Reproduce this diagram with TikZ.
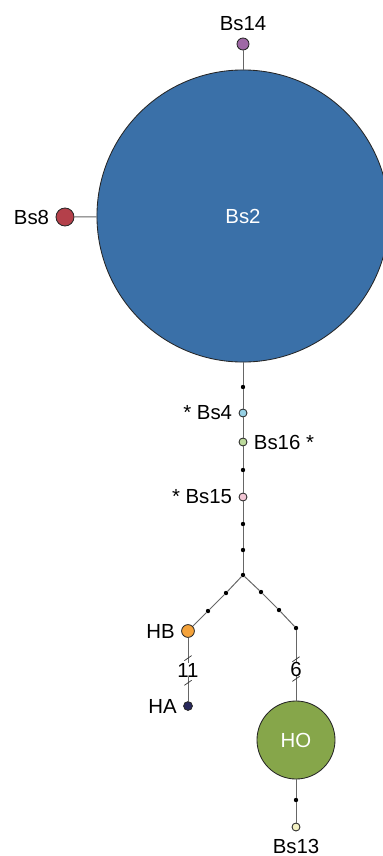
\documentclass[tikz,border=0pt]{standalone}
\usepackage{fontspec}
\setmainfont{Liberation Sans}
\usetikzlibrary{positioning}
\definecolor{hapblue}{RGB}{58,112,168}
\definecolor{hapgreen}{RGB}{134,166,74}
\definecolor{hapred}{RGB}{180,64,74}
\definecolor{hapviolet}{RGB}{158,104,165}
\definecolor{hapsky}{RGB}{150,208,228}
\definecolor{haplime}{RGB}{188,218,156}
\definecolor{hapPink}{RGB}{242,198,212}
\definecolor{hapOrange}{RGB}{244,162,58}
\definecolor{hapnavy}{RGB}{40,40,92}
\definecolor{hapcream}{RGB}{244,242,196}
\tikzset{
    hap/.style={draw=black!85, circle, line width=0.6pt, inner sep=0pt},
    vert/.style={fill=black, circle, inner sep=0pt, minimum size=0.11cm},
    link/.style={draw=black!60, line width=0.7pt},
    tag/.style={font=\fontsize{14.5}{16}\selectfont, inner sep=1pt},
    steps/.style={font=\fontsize{14.5}{16}\selectfont, fill=white, inner sep=0pt},
    hatch/.style={draw=black!80, line width=0.5pt, inner sep=0pt, minimum height=0pt, minimum width=0.22cm, rotate=35}
}
\begin{document}
\begin{tikzpicture}[x=0.025cm, y=-0.025cm]
    \useasboundingbox (0,0) rectangle (382,856);
    % haplotypes
    \node[hap, fill=hapblue, minimum size=7.3cm] (bs2) at (243,216) {};
    \node[tag, text=white] at (bs2) {Bs2};
    \node[hap, fill=hapviolet, minimum size=0.3cm] (bs14) at (243,44) {};
    \node[hap, fill=hapred, minimum size=0.45cm] (bs8) at (65,217) {};
    \node[vert] (m1) at (243,387) {};
    \node[hap, fill=hapsky, minimum size=0.2cm] (bs4) at (243,413) {};
    \node[hap, fill=haplime, minimum size=0.2cm] (bs16) at (243,442) {};
    \node[vert] (m2) at (243,470) {};
    \node[hap, fill=hapPink, minimum size=0.2cm] (bs15) at (243,497) {};
    \node[vert] (m3) at (243,524) {};
    \node[vert] (m4) at (243,550) {};
    \node[vert] (fork) at (243,575) {};
    \node[vert] (l1) at (226,593) {};
    \node[vert] (l2) at (208,611) {};
    \node[hap, fill=hapOrange, minimum size=0.32cm] (hb) at (188,631) {};
    \node[hap, fill=hapnavy, minimum size=0.22cm] (ha) at (188,706) {};
    \node[vert] (r1) at (261,592) {};
    \node[vert] (r2) at (279,610) {};
    \node[vert] (r3) at (296,628) {};
    \node[hap, fill=hapgreen, minimum size=1.95cm] (ho) at (296,740) {};
    \node[tag, text=white] at (ho) {HO};
    \node[vert] (m5) at (296,800) {};
    \node[hap, fill=hapcream, minimum size=0.2cm] (bs13) at (296,827) {};
    % labels
    \node[tag, above=0.12cm of bs14] {Bs14};
    \node[tag, left=0.12cm of bs8] {Bs8};
    \node[tag, left=0.12cm of bs4] {* Bs4};
    \node[tag, right=0.12cm of bs16] {Bs16 *};
    \node[tag, left=0.12cm of bs15] {* Bs15};
    \node[tag, left=0.12cm of hb] {HB};
    \node[tag, left=0.12cm of ha] {HA};
    \node[tag, below=0.15cm of bs13] {Bs13};
    % connectors
    \path[link] (bs14) -- (bs2);
    \path[link] (bs8) -- (bs2);
    \path[link] (bs2) -- (m1) -- (bs4) -- (bs16) -- (m2) -- (bs15) -- (m3) -- (m4) -- (fork);
    \path[link] (fork) -- (l1) -- (l2) -- (hb);
    \path[link] (fork) -- (r1) -- (r2) -- (r3);
    \path[link] (hb) -- node[steps, pos=0.51] {11} node[hatch, pos=0.32] {} node[hatch, pos=0.71] {} (ha);
    \path[link] (r3) -- node[steps, pos=0.55] {6} node[hatch, pos=0.41] {} node[hatch, pos=0.69] {} (ho);
    \path[link] (ho) -- (m5) -- (bs13);
\end{tikzpicture}
\end{document}
